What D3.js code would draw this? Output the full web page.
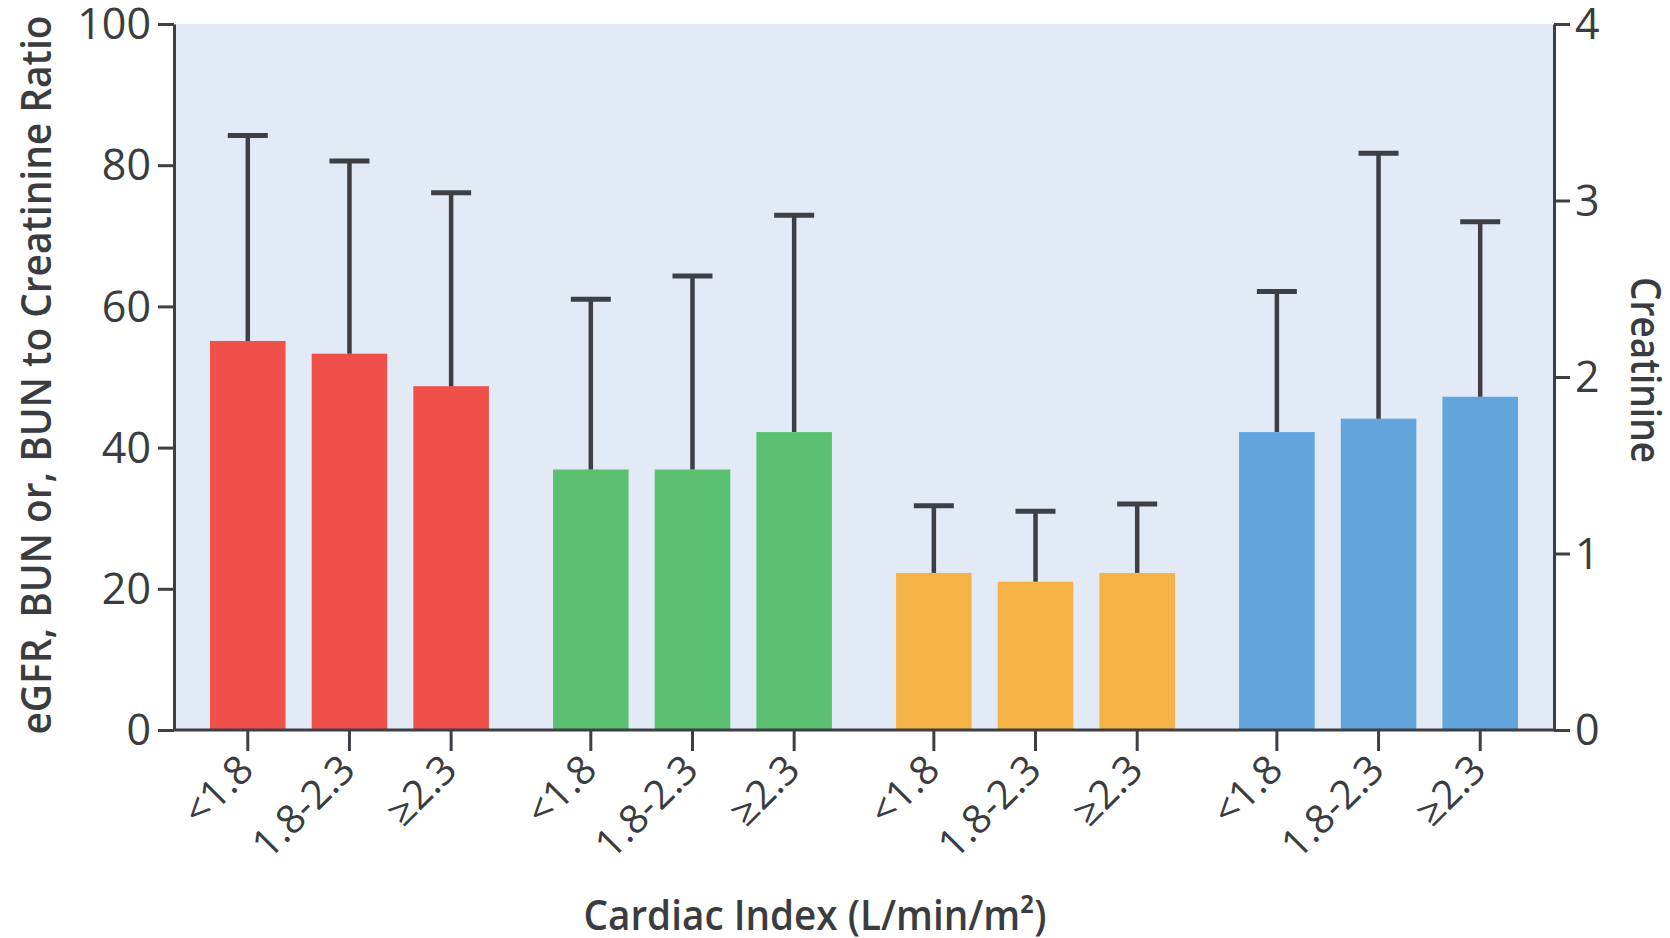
<!DOCTYPE html>
<html>
<head>
<meta charset="utf-8">
<script src="https://cdn.jsdelivr.net/npm/d3@7"></script>
<style>
  html, body { margin: 0; padding: 0; background: #ffffff; }
  svg { display: block; }
  text { font-family: "Open Sans", "Noto Sans", sans-serif; fill: #3b3c40; }
</style>
</head>
<body>
<svg id="chart" width="1670" height="938"></svg>
<script>
// Renal markers by cardiac index stratum (mean with +SD whisker)
const measures = ["eGFR", "BUN", "Creatinine", "BUN/Cr"];
const ciBins = ["<1.8", "1.8-2.3", "\u22652.3"];

const egfrMean = [55.1, 53.3, 48.7];
const egfrSD   = [29.1, 27.3, 27.4];
const bunMean  = [36.9, 36.9, 42.2];
const bunSD    = [24.1, 27.4, 30.7];
// creatinine is read on the right-hand axis (mg/dL)
const creatMean = [0.89, 0.84, 0.89];
const creatSD   = [0.38, 0.40, 0.39];
const ratioMean = [42.2, 44.1, 47.2];
const ratioSD   = [19.9, 37.6, 24.8];

const leftTicks  = [0, 20, 40, 60, 80, 100];
const rightTicks = [0, 1, 2, 3, 4];

const colors = ["#ef5049", "#5bc070", "#f5b246", "#62a4dc"];

const series = [
  { measure: measures[0], mean: egfrMean,  sd: egfrSD,  axis: "left"  },
  { measure: measures[1], mean: bunMean,   sd: bunSD,   axis: "left"  },
  { measure: measures[2], mean: creatMean, sd: creatSD, axis: "right" },
  { measure: measures[3], mean: ratioMean, sd: ratioSD, axis: "left"  }
];

const svg = d3.select("#chart");
const x0 = 174, x1 = 1554, yTop = 24, yBot = 730;
const ink = "#3d3f44";

const y  = d3.scaleLinear().domain([0, 100]).range([yBot, yTop]);
const yR = d3.scaleLinear().domain([0, 4]).range([yBot, yTop]);

const xGroup = d3.scaleBand().domain(measures).range([x0, x1])
  .paddingInner(0.187).paddingOuter(0.105);
const xBin = d3.scaleBand().domain(ciBins).range([0, xGroup.bandwidth()])
  .paddingInner(0.257).paddingOuter(0);

// plot background
svg.append("rect")
  .attr("x", x0).attr("y", yTop)
  .attr("width", x1 - x0).attr("height", yBot - yTop)
  .attr("fill", "#e2eaf5");

// bars and whiskers
const rows = [];
series.forEach((s, gi) => {
  const sc = s.axis === "left" ? y : yR;
  ciBins.forEach((b, i) => {
    rows.push({ measure: s.measure, bin: b, mean: s.mean[i], sd: s.sd[i], sc, color: colors[gi] });
  });
});

const bw = xBin.bandwidth();
const capW = 40;

const g = svg.append("g");
g.selectAll("rect.bar").data(rows).enter().append("rect")
  .attr("class", "bar")
  .attr("x", d => xGroup(d.measure) + xBin(d.bin))
  .attr("y", d => d.sc(d.mean))
  .attr("width", bw)
  .attr("height", d => d.sc(0) - d.sc(d.mean))
  .attr("fill", d => d.color);

g.selectAll("line.whisker").data(rows).enter().append("line")
  .attr("class", "whisker")
  .attr("x1", d => xGroup(d.measure) + xBin(d.bin) + bw / 2)
  .attr("x2", d => xGroup(d.measure) + xBin(d.bin) + bw / 2)
  .attr("y1", d => d.sc(d.mean))
  .attr("y2", d => d.sc(d.mean + d.sd))
  .attr("stroke", ink).attr("stroke-width", 4.5);

g.selectAll("line.cap").data(rows).enter().append("line")
  .attr("class", "cap")
  .attr("x1", d => xGroup(d.measure) + xBin(d.bin) + bw / 2 - capW / 2)
  .attr("x2", d => xGroup(d.measure) + xBin(d.bin) + bw / 2 + capW / 2)
  .attr("y1", d => d.sc(d.mean + d.sd))
  .attr("y2", d => d.sc(d.mean + d.sd))
  .attr("stroke", ink).attr("stroke-width", 5);

// axes
function styleAxis(sel, fontSize) {
  sel.selectAll("path.domain").attr("stroke", ink).attr("stroke-width", 3);
  sel.selectAll(".tick line").attr("stroke", ink).attr("stroke-width", 3);
  sel.selectAll(".tick text")
    .style("font-family", "'Open Sans', 'Noto Sans', sans-serif")
    .style("font-size", fontSize + "px")
    .attr("fill", "#3b3c40");
}

const axL = svg.append("g").attr("transform", `translate(${x0},0)`)
  .call(d3.axisLeft(y).tickValues(leftTicks).tickSize(16).tickSizeOuter(0).tickPadding(7));
styleAxis(axL, 43);
axL.selectAll(".tick text").attr("dy", "0.34em");

const axR = svg.append("g").attr("transform", `translate(${x1},0)`)
  .call(d3.axisRight(yR).tickValues(rightTicks).tickFormat(d3.format("d"))
        .tickSize(16).tickSizeOuter(0).tickPadding(5));
styleAxis(axR, 43);
axR.selectAll(".tick text").attr("dy", "0.34em");

// baseline
svg.append("line")
  .attr("x1", x0).attr("x2", x1)
  .attr("y1", yBot).attr("y2", yBot)
  .attr("stroke", ink).attr("stroke-width", 3);

// category ticks for each measure group
measures.forEach(m => {
  const ax = svg.append("g")
    .attr("transform", `translate(${xGroup(m)},${yBot})`)
    .call(d3.axisBottom(xBin).tickSize(21).tickSizeOuter(0));
  ax.select("path.domain").remove();
  styleAxis(ax, 40);
  ax.selectAll(".tick text")
    .attr("x", 0).attr("y", 0).attr("dy", 0)
    .attr("text-anchor", "end")
    .attr("transform", "translate(8,42) rotate(-45)");
});

// axis titles
svg.append("text")
  .attr("transform", "translate(51,375) rotate(-90)")
  .attr("text-anchor", "middle")
  .attr("textLength", 719).attr("lengthAdjust", "spacingAndGlyphs")
  .style("font-size", "42px").style("font-weight", 600)
  .text("eGFR, BUN or, BUN to Creatinine Ratio");

svg.append("text")
  .attr("transform", "translate(1631,370) rotate(90)")
  .attr("text-anchor", "middle")
  .attr("textLength", 186).attr("lengthAdjust", "spacingAndGlyphs")
  .style("font-size", "42px").style("font-weight", 600)
  .text("Creatinine");

svg.append("text")
  .attr("x", 815).attr("y", 930)
  .attr("text-anchor", "middle")
  .attr("textLength", 463).attr("lengthAdjust", "spacingAndGlyphs")
  .style("font-size", "42px").style("font-weight", 600)
  .text("Cardiac Index (L/min/m\u00b2)");
</script>
</body>
</html>
